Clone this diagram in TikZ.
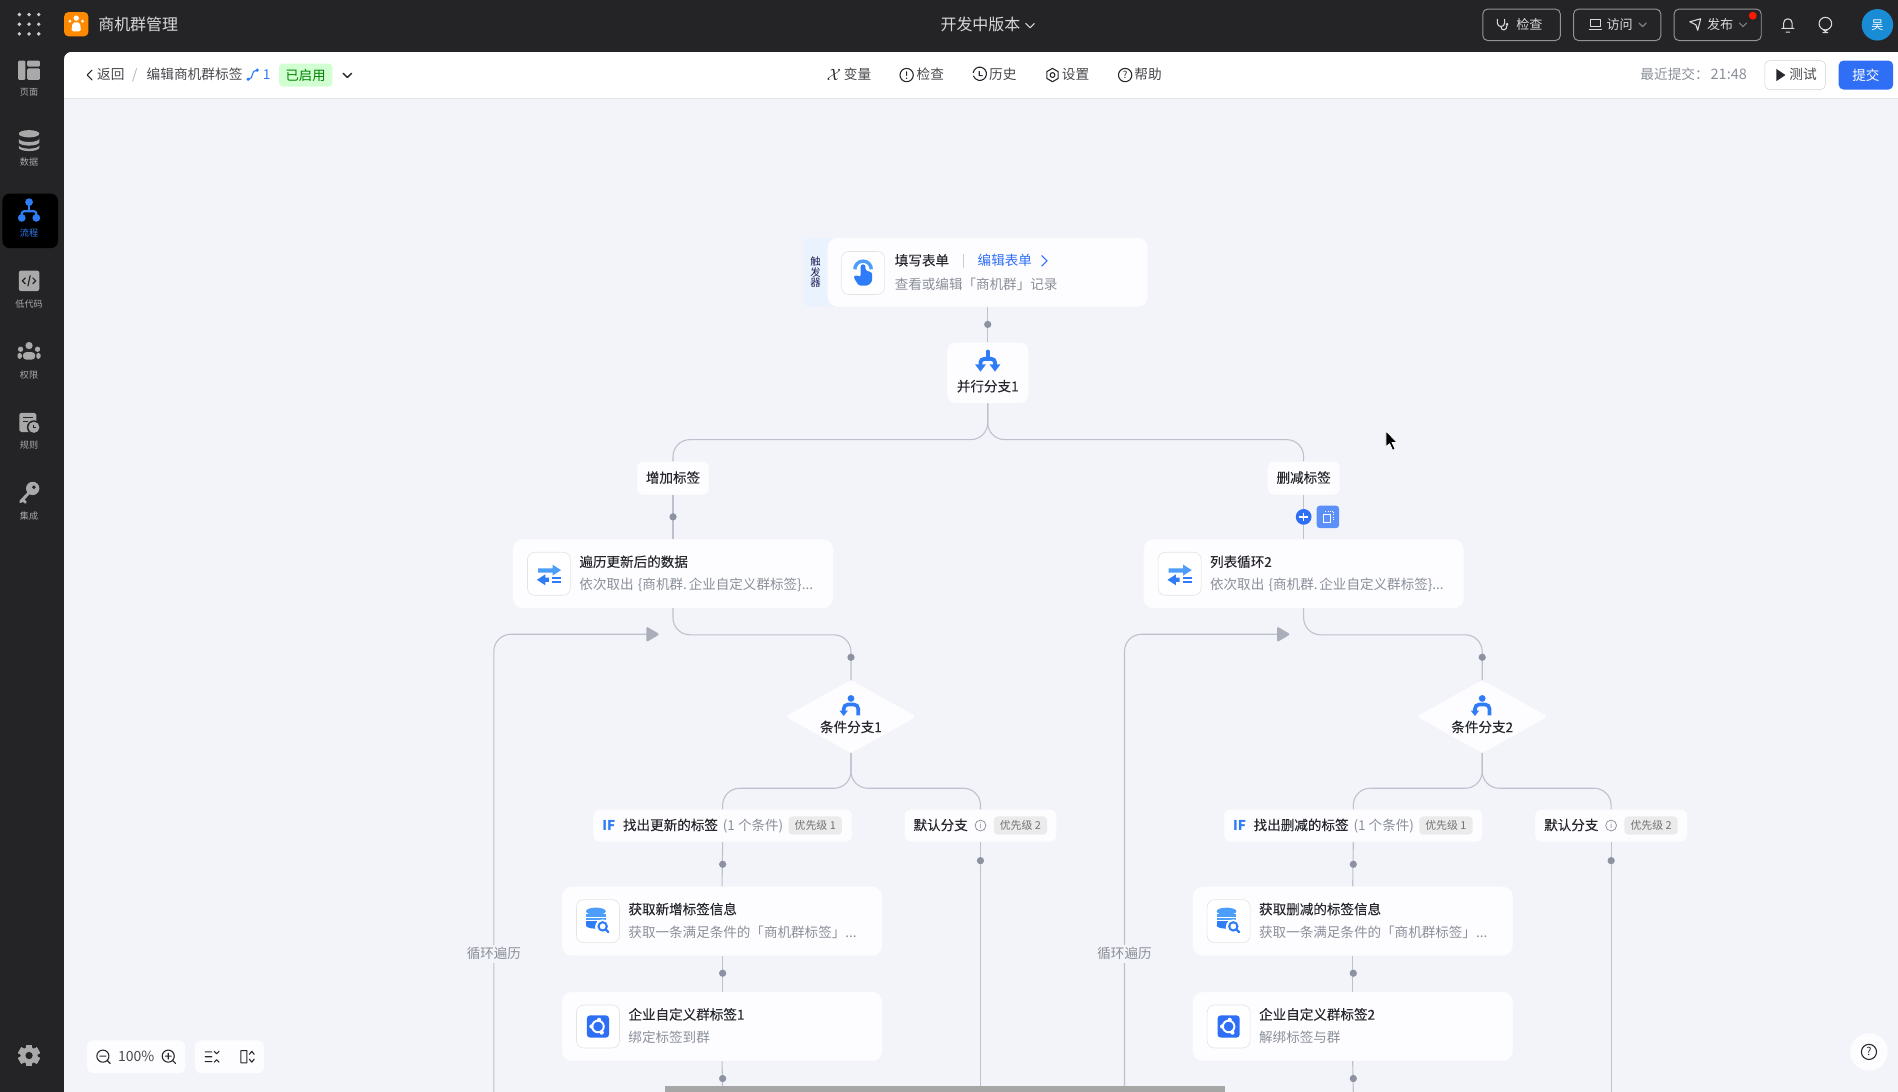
\documentclass[tikz,border=0pt]{standalone}
\usepackage{fontspec}
\setmainfont{Noto Sans CJK SC}
\newfontfamily\medfont[FakeBold=0.1]{Noto Sans CJK SC}
\usetikzlibrary{backgrounds,calc}
\definecolor{barbg}{HTML}{242427}
\definecolor{canvasbg}{HTML}{F3F4F9}
\definecolor{cardbg}{HTML}{FDFDFF}
\definecolor{inkc}{HTML}{26282D}
\definecolor{grayc}{HTML}{8A8F99}
\definecolor{linec}{HTML}{BDC1CE}
\definecolor{dotc}{HTML}{8D92A3}
\definecolor{blu}{HTML}{2F7DF6}
\definecolor{lblu}{HTML}{4C9EFA}
\definecolor{btn}{HTML}{2F6FF6}
\definecolor{sidec}{HTML}{A9A9A9}
\definecolor{barbtn}{HTML}{D8D8D8}
\definecolor{appor}{HTML}{FF8A00}
\newcommand\fs[1]{\fontsize{#1}{#1}\selectfont}
\tikzset{
  txt/.style={inner sep=0pt,anchor=west,text=inkc,font=\fs{11.2},text height=9.4pt,text depth=1.8pt},
  ttl/.style={txt,font=\fs{11.2}\medfont},
  ctxt/.style={inner sep=0pt,anchor=center,text=inkc,font=\fs{11.2},text height=9.4pt,text depth=1.8pt},
  subtxt/.style={txt,text=grayc},
  cardbox/.style={fill=cardbg,draw=cardbg,rounded corners=8pt,inner sep=0pt,minimum width=264pt,minimum height=56.5pt},
  iconbox/.style={fill=white,draw=gray!22,line width=.5pt,rounded corners=6pt,inner sep=0pt,minimum width=35.5pt,minimum height=35.5pt},
  pillbox/.style={fill=cardbg,draw=cardbg,rounded corners=5pt,inner sep=0pt,minimum height=26pt},
  badgebox/.style={fill=black!8,rounded corners=3pt,inner sep=0pt,minimum width=44pt,minimum height=15pt,text=black!55,font=\fs{9}},
  conn/.style={draw=linec,line width=.9pt},
  rconn/.style={conn,rounded corners=14pt},
  dotn/.style={circle,fill=dotc,inner sep=0pt,minimum size=6pt},
  sidelbl/.style={inner sep=0pt,anchor=center,text=sidec,font=\fs{7.5},text height=6.6pt,text depth=.9pt},
  tbtxt/.style={txt,font=\fs{11.3},text=inkc!85},
  barbtnbox/.style={draw=gray!85,rounded corners=4pt,line width=.8pt,inner sep=0pt,minimum height=26pt},
  bartxt/.style={ctxt,text=barbtn,font=\fs{10.8}},
  thin ic/.style={draw=inkc,line width=.9pt,line cap=round,line join=round},
  bar ic/.style={draw=barbtn,line width=.9pt,line cap=round,line join=round}
}
% ---------- icons (drawn around the origin of a shifted scope)
\newcommand\icoPar{%
  \draw[blu,line width=3.4pt,line cap=round] (0,-7.5) -- (0,-2);
  \draw[blu,line width=3.2pt,rounded corners=3pt] (-6,4) -- (-6,-1.5) -- (6,-1.5) -- (6,4);
  \fill[blu] (-10.5,3) -- (-1.5,3) -- (-6,9) -- cycle;
  \fill[blu] (1.5,3) -- (10.5,3) -- (6,9) -- cycle;}
\newcommand\icoCond{%
  \fill[blu] (0,-6.5) circle (2.8);
  \draw[blu,line width=3pt,rounded corners=3.5pt] (-6,4) -- (-6,-1.5) -- (6,-1.5) -- (6,7.5);
  \fill[blu] (-9.5,3.5) -- (-2.5,3.5) -- (-6,8) -- cycle;}
\newcommand\icoHand{%
  \draw[lblu,line width=2.8pt] (-6.8,-3) arc (180:360:6.8);
  \fill[blu,rounded corners=1.8pt] (-2,-7) -- (2,-7) -- (2,-2) -- (7.5,-.5) -- (7.5,7) -- (4,10.5) -- (-3.5,10.5) -- (-8,3.5) -- (-6,1.5) -- (-2,3.5) -- cycle;}
\newcommand\icoLoop{%
  \fill[lblu] (-9,-1) -- (-9,-4.5) -- (3,-4.5) -- (3,-7.5) -- (10,-3) -- (3,1.5) -- (3,-1) -- cycle;
  \fill[blu] (-10,5) -- (-3,.5) -- (-3,3.2) -- (0,3.2) -- (0,6.6) -- (-3,6.6) -- (-3,9.5) -- cycle;
  \fill[blu] (2.5,2.8) rectangle (10,4.5);
  \fill[blu] (2.5,6) rectangle (10,7.7);}
\newcommand\icoDb{\begin{scope}[scale=.86]%
  \fill[lblu] (-2,-9.5) ellipse [x radius=9.5,y radius=3.5];
  \fill[lblu] (-11.5,-6.5) rectangle (7.5,-1) ;
  \fill[blu] (-11.5,-.5) rectangle (-1,4.5);
  \fill[blu] (-2,4.2) ellipse [x radius=9.5,y radius=3];
  \fill[white] (-11.5,-3.8) rectangle (7.5,-2.9);
  \fill[white] (4.5,5.5) circle (7.2);
  \draw[blu,line width=1.7pt] (4.5,5) circle (4);
  \draw[blu,line width=1.9pt,line cap=round] (7.5,8) -- (10,10.5);\end{scope}}
\newcommand\icoInt{\begin{scope}[scale=.87]%
  \fill[btn,rounded corners=2.5pt] (-10.5,-10.5) rectangle (10.5,10.5);
  \draw[white,line width=1.6pt] (0,0) circle (5.5);
  \fill[white] (1,-6.3) circle (2);
  \fill[white] (-6.2,0) circle (2);
  \fill[white] (3.6,5.8) circle (2);\end{scope}}
% sidebar icons
\newcommand\sdPage{%
  \fill[sidec,rounded corners=1pt] (-9,-8) rectangle (-3,8);
  \fill[sidec,rounded corners=1pt] (-1.5,-8) rectangle (9,-3);
  \fill[sidec,rounded corners=1pt] (-1.5,-1.5) rectangle (9,8);}
\newcommand\sdData{%
  \fill[sidec] (0,-5.5) ellipse [x radius=8.5,y radius=3];
  \fill[sidec] (-8.5,-1.5) arc (180:0:8.5 and 2.8) -- (8.5,1.5) arc (0:180:8.5 and 2.8) -- cycle;
  \fill[sidec] (-8.5,4) arc (180:0:8.5 and 2.8) -- (8.5,6) arc (0:180:8.5 and 2.8) -- cycle;}
\newcommand\sdFlow{%
  \fill[blu] (0,-7) circle (3.2);
  \fill[blu] (-6,6) circle (3.2);
  \fill[blu] (6,6) circle (3.2);
  \draw[blu,line width=1.8pt,rounded corners=2pt] (-6,5) -- (-6,.5) -- (6,.5) -- (6,5);
  \draw[blu,line width=1.8pt] (0,-6) -- (0,.5);}
\newcommand\sdCode{%
  \fill[sidec,rounded corners=2pt] (-8.5,-8.5) rectangle (8.5,8.5);
  \draw[barbg,line width=1pt] (-3,-2.5) -- (-5.5,0) -- (-3,2.5) (3,-2.5) -- (5.5,0) -- (3,2.5) (1,-4.5) -- (-1,4.5);}
\newcommand\sdPerm{%
  \fill[sidec] (0,-5.5) circle (3);
  \fill[sidec] (-7,-2.5) circle (2.2);
  \fill[sidec] (7,-2.5) circle (2.2);
  \fill[sidec,rounded corners=2.5pt] (-5,6) -- (-5,0) -- (5,0) -- (5,6) -- cycle;
  \fill[sidec,rounded corners=1.5pt] (-9.5,5.5) -- (-9.5,.5) -- (-6,.5) -- (-6,5.5) -- cycle;
  \fill[sidec,rounded corners=1.5pt] (9.5,5.5) -- (9.5,.5) -- (6,.5) -- (6,5.5) -- cycle;}
\newcommand\sdRule{%
  \fill[sidec,rounded corners=1.5pt] (-8,-8) rectangle (6,8);
  \draw[barbg,line width=1pt] (-5,-4) -- (3,-4) (-5,-.5) -- (-1,-.5);
  \fill[barbg] (4,4) circle (5.8);
  \fill[sidec] (4,4) circle (4.6);
  \draw[barbg,line width=.8pt] (4,1.8) -- (4,4) -- (6,4);}
\newcommand\sdKey{%
  \fill[sidec] (3,-3.5) circle (5.5);
  \fill[barbg] (4,-4.5) circle (1.6);
  \draw[sidec,line width=2.4pt,line cap=round] (0,0) -- (-7,7.5) (-5.5,5.5) -- (-3,8);}
\newcommand\sdGear{%
  \foreach \a in {0,60,...,300}{\fill[sidec,rotate=\a] (-2.8,-9) rectangle (2.8,9);}
  \fill[sidec] (0,0) circle (7);
  \fill[barbg] (0,0) circle (3);}
\newcommand\sideitem[6]{% name, y icon, y label, label, icon, colour
  \begin{scope}[shift={(24,#2)}]#5\end{scope}
  \node[sidelbl,text=#6] (#1) at (24,#3) {#4};}
% card with icon, title, subtitle
\newcommand\flowcard[6]{% name,cx,cy,icon,title,sub
  \node[cardbox] (#1) at (#2,#3) {};
  \node[iconbox] (#1-icon) at ($(#1.center)+(-102.5,0)$) {};
  \begin{scope}[shift={(#1-icon.center)}]#4\end{scope}
  \node[ttl] (#1-title) at ($(#1.center)+(-77.5,-9.5)$) {#5};
  \node[subtxt] (#1-sub) at ($(#1.center)+(-77.5,9.5)$) {#6};}
% IF pill
\newcommand\ifpill[4]{% name,cx,cy,text
  \node[pillbox,minimum width=213pt] (#1) at (#2,#3) {};
  \node[txt,text=blu,font=\fs{11.2}\bfseries] (#1-if) at ($(#1.center)+(-99.5,0)$) {IF};
  \node[ttl] (#1-txt) at ($(#1.center)+(-82.5,0)$) {#4};
  \node[subtxt] (#1-cnt) at ($(#1.center)+(0,0)$) {(1 个条件)};
  \node[badgebox] (#1-badge) at ($(#1.center)+(76.5,0)$) {优先级 1};}
\newcommand\defpill[3]{% name,cx,cy
  \node[pillbox,minimum width=125pt] (#1) at (#2,#3) {};
  \node[ttl] (#1-txt) at ($(#1.center)+(-55.5,0)$) {默认分支};
  \node[circle,draw=grayc,line width=.6pt,inner sep=0pt,minimum size=9pt,text=grayc,font=\fs{6.5}] (#1-info) at ($(#1.center)+(0,0)$) {i};
  \node[badgebox] (#1-badge) at ($(#1.center)+(33,0)$) {优先级 2};}
\newcommand\diamondnode[4]{% name,cx,cy,text
  \node[inner sep=0pt,minimum width=108pt,minimum height=60pt] (#1) at (#2,#3) {};
  \fill[cardbg,rounded corners=3pt] (#1.north) -- (#1.east) -- (#1.south) -- (#1.west) -- cycle;
  \coordinate (#1-ic) at ($(#1.center)+(0,-8.5)$);
  \begin{scope}[shift={(#1-ic)}]\icoCond\end{scope}
  \node[ctxt,font=\fs{11.2}\medfont] (#1-txt) at ($(#1.center)+(0,9)$) {#4};}
\newcommand\looptip[1]{%
  \fill[dotc!75,rounded corners=1.2pt] ($(#1)+(-3,-6.5)$) -- ($(#1)+(8,0)$) -- ($(#1)+(-3,6.5)$) -- cycle;}
\begin{document}
\begin{tikzpicture}[x=1pt,y=-1pt]
\useasboundingbox (0,0) rectangle (1568,902);
\clip (0,0) rectangle (1568,902);
\begin{pgfonlayer}{background}
  \fill[barbg] (0,0) rectangle (1568,902);
  \fill[canvasbg,rounded corners=6pt] (53,43) rectangle (1600,950);
  \begin{scope}
    \clip[rounded corners=6pt] (53,43) rectangle (1600,950);
    \fill[white] (53,43) rectangle (1600,81);
    \draw[black!10,line width=.6pt] (53,81) -- (1568,81);
  \end{scope}
\end{pgfonlayer}

%% ------ top bar
\foreach \i in {16,24,32}{\foreach \j in {12,20,28}{\fill[sidec!60!white] (\i,\j) circle (1.6);}}
\node[fill=appor,rounded corners=3.5pt,inner sep=0pt,minimum size=20pt] (appicon) at (63,20) {};
\fill[white] (63,15) circle (2.2);
\fill[white] (57.8,17.5) circle (1.3) (68.2,17.5) circle (1.3);
\fill[white,rounded corners=1.5pt] (59,26) -- (60,18.5) -- (66,18.5) -- (67,26) -- cycle;
\node[txt,text=barbtn,font=\fs{13.2},text height=11.6pt,text depth=1.6pt] (apptitle) at (81,20.5) {商机群管理};
\node[ctxt,text=barbtn,font=\fs{13.2},text height=11.6pt,text depth=1.6pt] (version) at (810,20.5) {开发中版本};
\draw[bar ic] (847.5,19.5) -- (851,23) -- (854.5,19.5);

\node[barbtnbox,minimum width=64pt] (bcheck) at (1257,20.5) {};
\node[bartxt] (bchecktxt) at (1263.5,20.5) {检查};
\draw[bar ic] (1237,16) -- (1237,19) arc (180:0:3) -- (1243,16) (1240,22) .. controls (1240,26) and (1245,25.5) .. (1245,21);
\fill[barbtn] (1245,20) circle (1.2);
\node[barbtnbox,minimum width=72pt] (bvisit) at (1336,20.5) {};
\draw[bar ic] (1314,16) rectangle (1322,22) (1313,24.5) -- (1323,24.5);
\node[bartxt] (bvisittxt) at (1338,20.5) {访问};
\draw[bar ic,draw=gray] (1354,19) -- (1357,22) -- (1360,19);
\node[barbtnbox,minimum width=72pt] (bpub) at (1419,20.5) {};
\draw[bar ic] (1396,18) -- (1405,15.5) -- (1402.5,25) -- (1401,20.5) -- cycle;
\node[bartxt] (bpubtxt) at (1421,20.5) {发布};
\draw[bar ic,draw=gray] (1437,19) -- (1440,22) -- (1443,19);
\node[circle,fill=red!80!orange,inner sep=0pt,minimum size=6.5pt] (reddot) at (1448,13) {};
\draw[bar ic] (1472,23.5) -- (1482,23.5) (1473.5,23.5) -- (1473.5,19) arc (180:360:3.5) -- (1480.5,23.5) (1475.5,26.5) -- (1478.5,26.5);
\draw[bar ic] (1508,19.5) circle (5.2) (1506,27) -- (1510,27) (1505.5,24) -- (1508,26) -- (1510.5,24);
\node[circle,fill=cyan!70!blue!95!white,inner sep=0pt,minimum size=26pt,text=white,font=\fs{10}] (avatar) at (1551,20.5) {吴};

%% ------ sidebar
\node[fill=black,rounded corners=6pt,inner sep=0pt,minimum width=46pt,minimum height=45pt] (activebox) at (25,182.5) {};
\sideitem{s1}{58}{76}{页面}{\sdPage}{sidec}
\sideitem{s2}{116}{134}{数据}{\sdData}{sidec}
\sideitem{s3}{174}{192.5}{流程}{\sdFlow}{blu}
\sideitem{s4}{232}{251}{低代码}{\sdCode}{sidec}
\sideitem{s5}{291}{309.5}{权限}{\sdPerm}{sidec}
\sideitem{s6}{349}{368}{规则}{\sdRule}{sidec}
\sideitem{s7}{407}{426}{集成}{\sdKey}{sidec}
\begin{scope}[shift={(24,872)}]\sdGear\end{scope}

%% ------ toolbar
\draw[thin ic] (76,58) -- (72,62) -- (76,66);
\node[tbtxt] (back) at (80,62) {返回};
\node[tbtxt,text=black!30] (slash) at (109,62) {/};
\node[tbtxt] (pagename) at (121,62) {编辑商机群标签};
\draw[blu,line width=.9pt] (205.5,65.5) .. controls (210,65) and (207,58) .. (212,58);
\fill[blu] (205,65.5) circle (1.5) (212.5,58) circle (1.5);
\node[tbtxt,text=blu] (vernum) at (217,62) {1};
\node[fill=green!18,rounded corners=3pt,inner sep=0pt,minimum width=44pt,minimum height=19pt,text=green!50!black,font=\fs{11}] (enabled) at (252.5,62) {已启用};
\draw[thin ic,line width=1.1pt] (283.5,60.5) -- (287,64) -- (290.5,60.5);

\node[inner sep=0pt,scale=1.35,text=inkc] (xicon) at (689,62) {$\mathcal{X}$};
\node[tbtxt] (tvar) at (697,62) {变量};
\draw[thin ic] (749,62) circle (5.5) (749,59.3) -- (749,62.3);
\fill[inkc] (749,64.6) circle (.6);
\node[tbtxt] (tcheck) at (757,62) {检查};
\draw[thin ic] (804,60) arc (190:520:5.5) (809,59) -- (809,62.5) -- (811.5,62.5);
\node[tbtxt] (thist) at (817,62) {历史};
\draw[thin ic] (869.5,62) circle (2);
\draw[thin ic] (864.8,59.2) -- (869.5,56.5) -- (874.2,59.2) -- (874.2,64.8) -- (869.5,67.5) -- (864.8,64.8) -- cycle;
\node[tbtxt] (tset) at (877,62) {设置};
\node[circle,thin ic,inner sep=0pt,minimum size=11pt,font=\fs{8},text=inkc] (helpicon) at (929.5,62) {?};
\node[tbtxt] (thelp) at (937,62) {帮助};

\node[tbtxt,text=grayc] (recent) at (1355,62) {最近提交：};
\node[tbtxt,text=grayc,font=\fs{12}] (recenttime) at (1413,62) {21:48};
\node[draw=black!18,fill=white,rounded corners=4pt,inner sep=0pt,minimum width=50pt,minimum height=24pt] (btest) at (1483,62) {};
\fill[inkc] (1467.5,57) -- (1475,62) -- (1467.5,67) -- cycle;
\node[tbtxt] (btesttxt) at (1478,62) {测试};
\node[fill=btn,rounded corners=4pt,inner sep=0pt,minimum width=45pt,minimum height=24pt,text=white,font=\fs{11.2}] (bsubmit) at (1541.5,62) {提交};

%% ------ flow nodes
\node[fill=blu!10,rounded corners=5pt,inner sep=0pt,minimum width=30pt,minimum height=56.5pt] (trigtab) at (679,225) {};
\node[inner sep=0pt,text=inkc!80!blue,font=\fs{8.6},align=center] (trigtxt) at (673.7,225) {\baselineskip=10.6pt 触\\发\\器};
\node[cardbox,minimum width=264pt] (trig) at (816,225) {};
\node[iconbox] (trig-icon) at (713,225.5) {};
\begin{scope}[shift={(trig-icon.center)}]\icoHand\end{scope}
\node[ttl] (trig-title) at (739,215.5) {填写表单};
\draw[black!20,line width=.7pt] (796,210) -- (796,221);
\node[txt,text=btn] (trig-edit) at (807.5,215.5) {编辑表单};
\draw[btn,line width=.9pt] (860.5,211) -- (865,215.5) -- (860.5,220);
\node[subtxt] (trig-sub) at (739,235.5) {查看或编辑「商机群」记录};

\node[fill=cardbg,rounded corners=7pt,inner sep=0pt,minimum width=67pt,minimum height=50pt] (par) at (816,308) {};
\coordinate (par-ic) at (816,298);
\begin{scope}[shift={(par-ic)}]\icoPar\end{scope}
\node[ctxt,font=\fs{11.2}\medfont] (par-txt) at (816,319.5) {并行分支1};

\node[pillbox,minimum width=59pt,minimum height=27pt] (addtag) at (556,395) {};
\node[ctxt,font=\fs{11.2}\medfont] (addtag-t) at (556,395) {增加标签};
\node[pillbox,minimum width=59pt,minimum height=27pt] (deltag) at (1077,395) {};
\node[ctxt,font=\fs{11.2}\medfont] (deltag-t) at (1077,395) {删减标签};

\flowcard{loopa}{556}{474}{\icoLoop}{遍历更新后的数据}{依次取出\kern3.5pt\{商机群.\kern1.5pt 企业自定义群标签\}...}
\flowcard{loopb}{1077}{474}{\icoLoop}{列表循环2}{依次取出\kern3.5pt\{商机群.\kern1.5pt 企业自定义群标签\}...}

\diamondnode{conda}{703}{592}{条件分支1}
\diamondnode{condb}{1224.5}{592}{条件分支2}

\ifpill{ifa}{597}{682}{找出更新的标签}
\defpill{defa}{810}{682}
\ifpill{ifb}{1118}{682}{找出删减的标签}
\defpill{defb}{1331}{682}

\flowcard{geta}{596.5}{761}{\icoDb}{获取新增标签信息}{获取一条满足条件的「商机群标签」...}
\flowcard{inta}{596.5}{848}{\icoInt}{企业自定义群标签1}{绑定标签到群}
\flowcard{getb}{1117.5}{761}{\icoDb}{获取删减的标签信息}{获取一条满足条件的「商机群标签」...}
\flowcard{intb}{1117.5}{848}{\icoInt}{企业自定义群标签2}{解绑标签与群}

\coordinate (heada) at (537,524);
\coordinate (headb) at (1058,524);
\coordinate (loopbota) at (408,902);
\coordinate (loopbotb) at (929,902);
\coordinate (enda) at (597,902);
\coordinate (endb) at (1118,902);
\coordinate (enddefa) at (810,902);
\coordinate (enddefb) at (1331,902);

%% ------ connectors
\begin{pgfonlayer}{background}
  \draw[conn] (trig.south) -- (par.north);
  \draw[rconn] (par.south) -- ++(0,30) -| (addtag.north);
  \draw[rconn] (par.south) -- ++(0,30) -| (deltag.north);
  \draw[conn] (addtag.south) -- (loopa.north);
  \draw[conn] (deltag.south) -- (loopb.north);
  \draw[rconn] (loopa.south) -- ++(0,22) -| (conda.north);
  \draw[rconn] (loopb.south) -- ++(0,22) -| (condb.north);
  \draw[rconn] (loopbota) |- (heada);
  \draw[rconn] (loopbotb) |- (headb);
  \draw[rconn] (conda.south) -- ++(0,29) -| (ifa.north);
  \draw[rconn] (conda.south) -- ++(0,29) -| (defa.north);
  \draw[rconn] (condb.south) -- ++(0,29) -| (ifb.north);
  \draw[rconn] (condb.south) -- ++(0,29) -| (defb.north);
  \draw[conn] (ifa.south) -- (geta.north);
  \draw[conn] (geta.south) -- (inta.north);
  \draw[conn] (inta.south) -- (enda);
  \draw[conn] (ifb.south) -- (getb.north);
  \draw[conn] (getb.south) -- (intb.north);
  \draw[conn] (intb.south) -- (endb);
  \draw[conn] (defa.south) -- (enddefa);
  \draw[conn] (defb.south) -- (enddefb);
\end{pgfonlayer}
\looptip{heada}
\looptip{headb}
\node[ctxt,text=grayc,fill=canvasbg,inner ysep=2pt,inner xsep=1pt] (labela) at (408,788) {循环遍历};
\node[ctxt,text=grayc,fill=canvasbg,inner ysep=2pt,inner xsep=1pt] (labelb) at (929,788) {循环遍历};

\node[dotn] (d0) at (816,268) {};
\node[dotn] (d1) at (556,427) {};
\node[dotn] (d2) at (703,543) {};
\node[dotn] (d3) at (1224.5,543) {};
\node[dotn] (d4) at (597,714) {};
\node[dotn] (d5) at (597,804) {};
\node[dotn] (d6) at (597,891) {};
\node[dotn] (d7) at (810,711) {};
\node[dotn] (d8) at (1118,714) {};
\node[dotn] (d9) at (1118,804) {};
\node[dotn] (d10) at (1118,891) {};
\node[dotn] (d11) at (1331,711) {};

\node[circle,fill=btn,inner sep=0pt,minimum size=13pt] (plusb) at (1077,427) {};
\draw[white,line width=1.3pt] (1073.5,427) -- (1080.5,427) (1077,423.5) -- (1077,430.5);
\node[fill=btn!78!white,rounded corners=2.5pt,inner sep=0pt,minimum size=18.5pt] (copyb) at (1097,427) {};
\draw[white,line width=.8pt] (1093.5,425) rectangle (1099,431.5);
\draw[white,line width=.8pt,densely dotted] (1095,422.5) -- (1101.5,422.5) -- (1101.5,429);

%% ------ scrollbar
\node[fill=black!35,inner sep=0pt,minimum width=463pt,minimum height=5pt,anchor=north west] (scrollb) at (549,897) {};

%% ------ canvas controls
\node[fill=cardbg,rounded corners=5pt,inner sep=0pt,minimum width=81pt,minimum height=27pt] (zoombox) at (112.5,873) {};
\draw[thin ic] (85,872.5) circle (5) (88.5,876) -- (91,878.5) (82.5,872.5) -- (87.5,872.5);
\node[ctxt,font=\fs{11.6},text=inkc!85] (zoomval) at (112.5,873) {100\%};
\draw[thin ic] (139,872.5) circle (5) (142.5,876) -- (145,878.5) (136.5,872.5) -- (141.5,872.5) (139,870) -- (139,875);
\node[fill=cardbg,rounded corners=5pt,inner sep=0pt,minimum width=57pt,minimum height=27pt] (viewbox) at (189.5,873) {};
\draw[thin ic] (169.5,869) -- (175,869) (169.5,873) -- (175,873) (169.5,877) -- (175,877) (177,868.5) -- (179,870.5) -- (181,868.5) (177,877.5) -- (179,875.5) -- (181,877.5);
\draw[thin ic] (199,868) rectangle (204,878) (206,871) -- (208,868.5) -- (210,871) (206,875) -- (208,877.5) -- (210,875);
\node[circle,fill=cardbg,inner sep=0pt,minimum size=31pt] (helpb) at (1544,869) {};
\node[circle,thin ic,inner sep=0pt,minimum size=12.5pt,font=\fs{9},text=inkc] (helpbq) at (1544,869) {?};

%% ------ cursor
\fill[black,draw=white,line width=.6pt,line join=round] (1145,356) -- (1145,369) -- (1148,366.5) -- (1150.5,372) -- (1152.5,371) -- (1150,365.5) -- (1154,365.5) -- cycle;
\end{tikzpicture}
\end{document}
